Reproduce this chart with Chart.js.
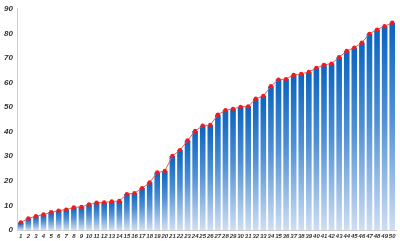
<!DOCTYPE html>
<html>
<head>
<meta charset="utf-8">
<script src="https://cdn.jsdelivr.net/npm/chart.js@4/dist/chart.umd.min.js"></script>
<style>
  html, body { margin: 0; padding: 0; background: #fff; }
  #wrap { width: 400px; height: 241px; position: relative; }
</style>
</head>
<body>
<div id="wrap"><canvas id="c"></canvas></div>
<script>
/* ── Data ─────────────────────────────────────────────────────────────── */

var categories = [];
for (var i = 1; i <= 50; i++) categories.push(String(i));

var values = [
  3.1, 4.7, 5.6, 6.3, 7.2, 7.9, 8.3, 9.2, 9.4, 10.4,
  11.1, 11.2, 11.6, 11.8, 14.6, 15.0, 17.0, 19.3, 23.4, 24.0,
  30.1, 32.5, 36.4, 40.3, 42.4, 42.7, 46.9, 48.7, 49.3, 50.1,
  50.3, 53.4, 54.5, 58.5, 61.2, 61.4, 63.1, 63.5, 64.3, 65.9,
  67.2, 67.7, 70.3, 72.8, 74.2, 76.2, 79.8, 81.5, 82.9, 84.3
];

var yTicks = [0, 10, 20, 30, 40, 50, 60, 70, 80, 90];

/* ── Per-bar vertical gradient ────────────────────────────────────────── */

function barFill(ctx) {
  var chart = ctx.chart;
  var y = chart.scales && chart.scales.y;
  if (!y || ctx.raw == null) return '#2d7fd0';
  var top  = y.getPixelForValue(ctx.raw);
  var base = y.getPixelForValue(0);
  if (!isFinite(top) || !isFinite(base) || base - top < 1) return '#2d7fd0';
  var g = chart.ctx.createLinearGradient(0, top, 0, base);
  g.addColorStop(0, '#0a64c0');
  g.addColorStop(0.45, '#4f90d4');
  g.addColorStop(1, '#cfdef3');
  return g;
}

var tickFont = { family: 'Liberation Sans, Arial, sans-serif', weight: 'bold', style: 'italic' };

new Chart(document.getElementById('c'), {
  data: {
    labels: categories,
    datasets: [
      {
        type: 'line',
        data: values,
        borderColor: '#f05a5a',
        borderWidth: 1,
        pointRadius: 2.2,
        pointBackgroundColor: '#ee1c1c',
        pointBorderColor: '#ee1c1c',
        pointBorderWidth: 0,
        tension: 0,
        order: 0
      },
      {
        type: 'bar',
        data: values,
        backgroundColor: barFill,
        borderWidth: 0,
        barPercentage: 0.74,
        categoryPercentage: 1,
        order: 1
      }
    ]
  },
  options: {
    responsive: true,
    maintainAspectRatio: false,
    animation: false,
    layout: { padding: { top: 1, right: 2, left: 0, bottom: 0 } },
    plugins: { legend: { display: false }, tooltip: { enabled: false } },
    scales: {
      x: {
        offset: true,
        grid: { display: false, drawTicks: false },
        border: { display: true, color: '#cfcfcf', width: 1 },
        ticks: {
          autoSkip: false, maxRotation: 0, minRotation: 0, padding: 3,
          color: '#333', font: Object.assign({ size: 6 }, tickFont)
        },
        afterFit: function (s) { s.height = 11; }
      },
      y: {
        min: 0, max: 90,
        afterBuildTicks: function (s) { s.ticks = yTicks.map(function (v) { return { value: v }; }); },
        grid: { display: false, drawTicks: false },
        border: { display: true, color: '#cfcfcf', width: 1 },
        ticks: {
          padding: 4, color: '#333',
          font: Object.assign({ size: 8 }, tickFont)
        },
        afterFit: function (s) { s.width = 17; }
      }
    }
  }
});
</script>
</body>
</html>
